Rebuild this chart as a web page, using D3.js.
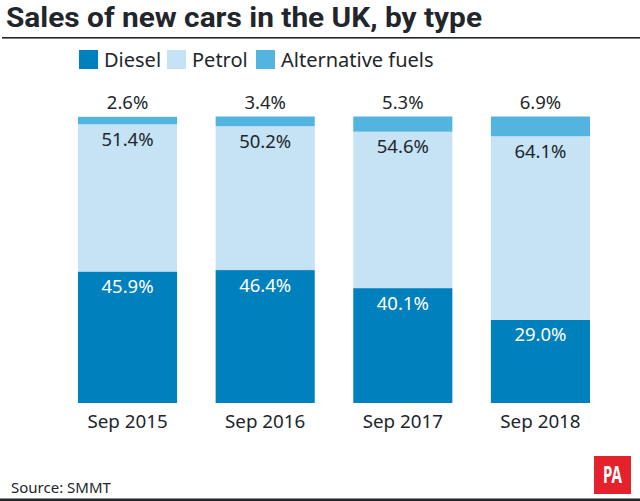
<!DOCTYPE html>
<html>
<head>
<meta charset="utf-8">
<script src="https://d3js.org/d3.v7.min.js"></script>
<style>
    html, body { margin: 0; padding: 0; background: #fff; }
    svg { display: block; }
    text { font-family: "Noto Sans", sans-serif; fill: #22262b; }
</style>
</head>
<body>
<script type="text/javascript">
    const years = ["Sep 2015", "Sep 2016", "Sep 2017", "Sep 2018"];
    const diesel = [45.9, 46.4, 40.1, 29.0];
    const petrol = [51.4, 50.2, 54.6, 64.1];
    const alternative = [2.6, 3.4, 5.3, 6.9];
    const legendNames = ["Diesel", "Petrol", "Alternative fuels"];
    const legendX = [79, 167, 256];
    const colours = ["#0080bd", "#c5e3f5", "#53b4e0"];

    const svg = d3.select("body").append("svg").attr("width", 640).attr("height", 501);

    svg.append("text").attr("x", 6).attr("y", 26.5)
        .attr("font-size", 28.5).attr("font-weight", 700)
        .attr("textLength", 476).attr("lengthAdjust", "spacingAndGlyphs")
        .style("font-family", "Roboto, sans-serif")
        .text("Sales of new cars in the UK, by type");

    svg.append("rect").attr("x", 2).attr("y", 37).attr("width", 638).attr("height", 1.6).attr("fill", "#22262b");

    // legend
    legendNames.forEach((name, i) => {
        svg.append("rect").attr("x", legendX[i]).attr("y", 50)
            .attr("width", 19).attr("height", 19).attr("fill", colours[i]);
        svg.append("text").attr("x", legendX[i] + 25).attr("y", 67)
            .attr("font-size", 20).text(name);
    });

    let x = d3.scaleBand().domain(years).range([78, 590]).paddingInner(0.28).paddingOuter(0);
    let y = d3.scaleLinear().domain([0, 100]).range([403, 116.5]);

    const rows = years.map((year, i) => ({ year: year, diesel: diesel[i], petrol: petrol[i], alternative: alternative[i] }));
    const keys = ["diesel", "petrol", "alternative"];
    const series = d3.stack().keys(keys)(rows);

    svg.selectAll("g.series")
        .data(series)
        .enter()
        .append("g")
        .attr("class", "series")
        .attr("fill", (d, i) => colours[i])
        .selectAll("rect")
        .data(d => d)
        .enter()
        .append("rect")
        .attr("x", d => x(d.data.year))
        .attr("y", d => y(d[1]))
        .attr("width", x.bandwidth())
        .attr("height", d => y(d[0]) - y(d[1]));

    // value labels
    const fmt = d3.format(".1f");
    series.forEach((s, k) => {
        svg.selectAll(null)
            .data(s)
            .enter()
            .append("text")
            .attr("x", d => x(d.data.year) + x.bandwidth() / 2)
            .attr("y", d => k == 2 ? 109 : y(d[1]) + 21.5)
            .attr("text-anchor", "middle")
            .attr("font-size", 18.5)
            .style("fill", k == 0 ? "#fff" : "#22262b")
            .text(d => fmt(d.data[keys[k]]) + "%");
    });

    // x axis, labels only
    let axis = svg.append("g").attr("transform", "translate(0,403)")
        .call(d3.axisBottom(x).tickSize(0).tickPadding(11.5));
    axis.select(".domain").remove();
    axis.selectAll("text").attr("font-size", 18.8).style("font-family", '"Noto Sans", sans-serif').style("fill", "#22262b");

    svg.append("text").attr("x", 11).attr("y", 493).attr("font-size", 15).text("Source: SMMT");

    svg.append("rect").attr("x", 0).attr("y", 498.5).attr("width", 640).attr("height", 2.5).attr("fill", "#22262b");

    // PA logo
    svg.append("rect").attr("x", 594).attr("y", 456).attr("width", 37).attr("height", 38).attr("fill", "#e3222b");
    svg.append("text").attr("x", 612.5).attr("y", 483).attr("text-anchor", "middle")
        .attr("font-size", 24).attr("font-weight", 700)
        .attr("textLength", 19).attr("lengthAdjust", "spacingAndGlyphs")
        .style("fill", "#fff").text("PA");
</script>
</body>
</html>
